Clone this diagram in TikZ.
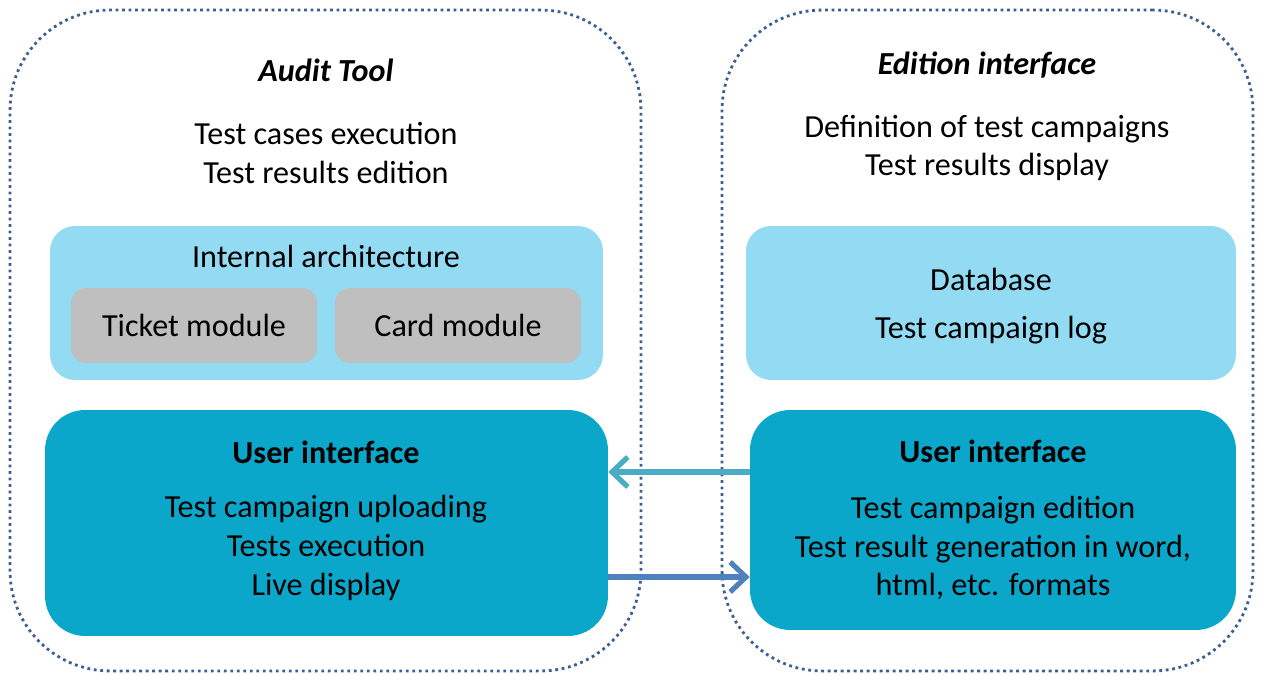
\documentclass[tikz,border=0pt]{standalone}
\usepackage{fontspec}
\setmainfont{Carlito}
\usepackage{xcolor}
\usetikzlibrary{arrows.meta, positioning, calc}

\definecolor{framecol}{HTML}{3B5F91}
\definecolor{lightbox}{HTML}{93DAF3}
\definecolor{darkbox}{HTML}{0AA7CB}
\definecolor{modbox}{HTML}{BFBFBF}
\definecolor{arrowtop}{HTML}{4BACC6}
\definecolor{arrowbot}{HTML}{4F81BD}

\tikzset{
  frame/.style={draw=framecol, line width=1.6pt, dash pattern=on 1.6pt off 2.1pt,
    rounded corners=2cm, minimum height=13.22cm},
  archbox/.style={fill=lightbox, rounded corners=0.5cm, minimum width=11.06cm, minimum height=3.08cm},
  modulebox/.style={fill=modbox, rounded corners=0.3cm, minimum width=4.92cm, minimum height=1.5cm},
  uibox/.style={fill=darkbox, rounded corners=0.8cm},
  txt/.style={font=\fontsize{18.3}{22}\selectfont, align=center, inner sep=0pt},
  link/.style={line width=2.9pt, -{Straight Barb[length=9pt, width=17pt, line width=2.9pt]}},
  shade/.style={link, draw=black, opacity=0.12}
}

\begin{document}
\begin{tikzpicture}[x=0.02cm, y=-0.02cm]
  \useasboundingbox (0,0) rectangle (1261,675);

  % Outer dotted frames
  \node[frame, minimum width=12.62cm] (audit) at (325.5,340.5) {};
  \node[frame, minimum width=10.62cm] (edit) at (987.5,340.5) {};

  % Left side: Audit Tool
  \node[txt] (audittitle) at (326,70) {\textbf{\textit{Audit Tool}}};
  \node[txt] (auditdesc) at (326,153) {Test cases execution\\Test results edition};

  \node[archbox] (arch) at (326.5,303) {};
  \node[txt] (archtitle) at (326,256) {Internal architecture};
  \node[modulebox] (ticket) at (194,325.5) {};
  \node[txt] at (ticket) {Ticket module};
  \node[modulebox] (card) at (458,325.5) {};
  \node[txt] at (card) {Card module};

  \node[uibox, minimum width=11.26cm, minimum height=4.52cm] (lui) at (326.5,523) {};
  \node[txt] (luititle) at (326,452) {\textbf{User interface}};
  \node[txt] (luitext) at (326,548) {Test campaign uploading\\Tests execution\\Live display};

  % Right side: Edition interface
  \node[txt] (edittitle) at (987,65) {\textbf{\textit{Edition interface}}};
  \node[txt] (editdesc) at (987,148) {Definition of test campaigns\\Test results display};

  \node[archbox, minimum width=9.8cm] (db) at (991,303) {};
  \node[txt] (dbtitle) at (991,279) {Database};
  \node[txt] (dblog) at (991,330) {Test campaign log};

  \node[uibox, minimum width=9.72cm, minimum height=4.4cm] (rui) at (993,520) {};
  \node[txt] (ruititle) at (993,451) {\textbf{User interface}};
  \node[txt] (ruitext) at (993,548) {Test campaign edition\\Test result generation in word,\\html, etc. formats};

  % Links between the two user interfaces
  \coordinate (ytop) at (0,472);
  \coordinate (ybot) at (0,577);
  \draw[shade, shift={(2,3)}] (rui.west |- ytop) -- (lui.east |- ytop);
  \draw[shade, shift={(2,3)}] (lui.east |- ybot) -- (rui.west |- ybot);
  \draw[link, arrowtop] (rui.west |- ytop) -- (lui.east |- ytop);
  \draw[link, arrowbot] (lui.east |- ybot) -- (rui.west |- ybot);
\end{tikzpicture}
\end{document}
